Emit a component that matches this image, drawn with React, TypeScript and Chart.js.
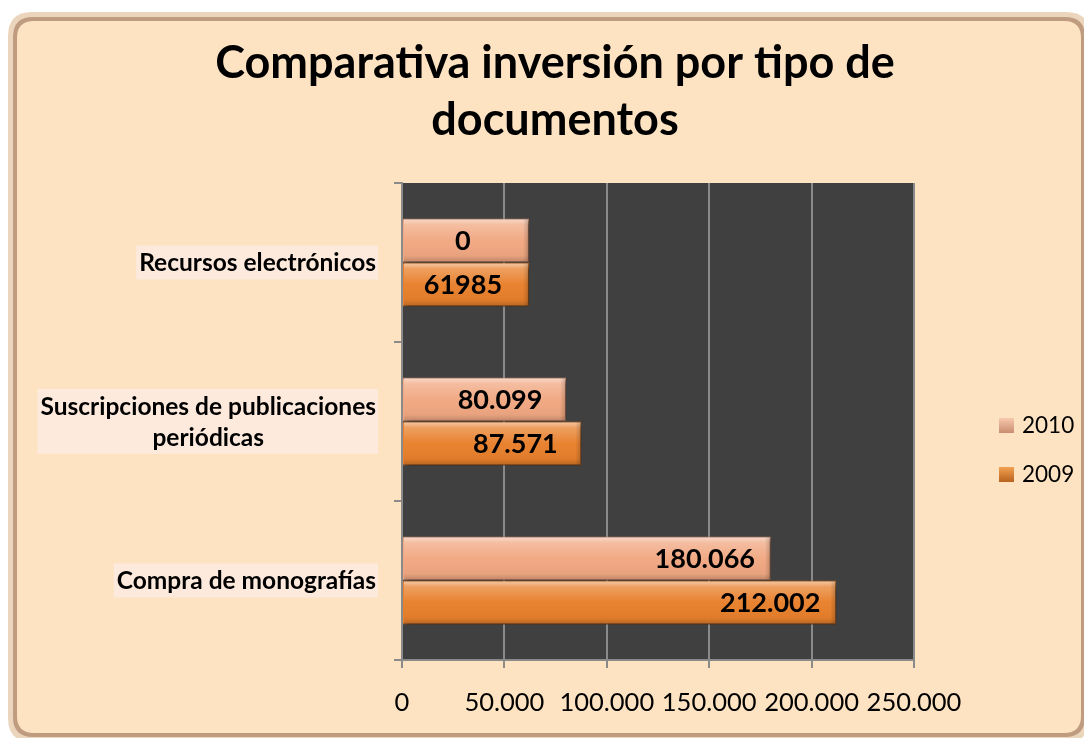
import React, { useEffect, useRef } from 'react';
import { Chart, registerables } from 'chart.js';

Chart.register(...registerables);

const TITLE_LINES = ['Comparativa inversión por tipo de', 'documentos'];
const CATEGORIES: string[][] = [
  ['Recursos electrónicos'],
  ['Suscripciones de publicaciones', 'periódicas'],
  ['Compra de monografías'],
];
const SERIES_NAMES = ['2010', '2009'];
const VALUES_2010 = [61985, 80099, 180066];
const VALUES_2009 = [61985, 87571, 212002];
const LABELS_2010 = ['0', '80.099', '180.066'];
const LABELS_2009 = ['61985', '87.571', '212.002'];
const X_MIN = 0;
const X_MAX = 250000;
const X_STEP = 50000;

const FONT = 'Lato, "Open Sans", sans-serif';
const BG = '#FDE3C2';
const PLOT_BG = '#404040';
const GRID = '#8a8a8a';
const COLORS = ['#F1A882', '#E8802C'];
const BORDERS = ['#C7876A', '#B5621F'];

const fmt = (v: number) => String(v).replace(/\B(?=(\d{3})+(?!\d))/g, '.');

function roundRectPath(ctx: CanvasRenderingContext2D, x: number, y: number, w: number, h: number, r: number) {
  ctx.beginPath();
  ctx.moveTo(x + r, y);
  ctx.lineTo(x + w - r, y);
  ctx.quadraticCurveTo(x + w, y, x + w, y + r);
  ctx.lineTo(x + w, y + h - r);
  ctx.quadraticCurveTo(x + w, y + h, x + w - r, y + h);
  ctx.lineTo(x + r, y + h);
  ctx.quadraticCurveTo(x, y + h, x, y + h - r);
  ctx.lineTo(x, y + r);
  ctx.quadraticCurveTo(x, y, x + r, y);
  ctx.closePath();
}

const decorPlugin = {
  id: 'decor',
  beforeDraw(chart: any) {
    const ctx: CanvasRenderingContext2D = chart.ctx;
    const { chartArea } = chart;
    ctx.save();
    ctx.clearRect(0, 0, chart.width, chart.height);
    // frame
    roundRectPath(ctx, 0, 4, 1082, 730, 24);
    ctx.fillStyle = '#EBD5BC';
    ctx.fill();
    roundRectPath(ctx, 5, 9, 1072, 720, 20);
    ctx.fillStyle = '#BF9C80';
    ctx.fill();
    roundRectPath(ctx, 9, 13, 1064, 712, 17);
    ctx.fillStyle = BG;
    ctx.fill();
    // plot area
    ctx.fillStyle = PLOT_BG;
    ctx.fillRect(chartArea.left, chartArea.top, chartArea.right - chartArea.left, chartArea.bottom - chartArea.top);
    // title
    ctx.fillStyle = '#000';
    ctx.font = `bold 45px ${FONT}`;
    ctx.textAlign = 'center';
    ctx.textBaseline = 'alphabetic';
    ctx.fillText(TITLE_LINES[0], 547, 70);
    ctx.fillText(TITLE_LINES[1], 547, 127);
    // category labels
    const yScale = chart.scales.y;
    ctx.font = `bold 24.5px ${FONT}`;
    const lh = 31;
    const right = 368;
    CATEGORIES.forEach((lines, i) => {
      const cy = yScale.getPixelForValue(i);
      const bw = Math.max(...lines.map((l) => ctx.measureText(l).width));
      const bh = lines.length * lh + 3;
      ctx.fillStyle = '#FDEADC';
      ctx.fillRect(right - bw - 3, cy - bh / 2, bw + 5, bh);
      ctx.fillStyle = '#000';
      ctx.textAlign = 'center';
      ctx.textBaseline = 'middle';
      lines.forEach((l, k) => {
        ctx.fillText(l, right - bw / 2, cy - ((lines.length - 1) * lh) / 2 + k * lh + 1);
      });
    });
    // legend
    const legendY = [417, 466];
    SERIES_NAMES.forEach((name, i) => {
      const y = legendY[i];
      const g = ctx.createLinearGradient(0, y - 7, 0, y + 8);
      g.addColorStop(0, i === 0 ? '#F7C9AE' : '#F2A050');
      g.addColorStop(1, i === 0 ? '#C98C70' : '#B8621F');
      ctx.fillStyle = g;
      ctx.fillRect(991, y - 7, 15, 15);
      ctx.fillStyle = '#000';
      ctx.font = `22.5px ${FONT}`;
      ctx.textAlign = 'left';
      ctx.textBaseline = 'middle';
      ctx.fillText(name, 1014, y + 1);
    });
    ctx.restore();
  },
  beforeDatasetsDraw(chart: any) {
    const ctx = chart.ctx;
    ctx.save();
    ctx.shadowColor = 'rgba(0,0,0,0.55)';
    ctx.shadowBlur = 5;
    ctx.shadowOffsetX = 3;
    ctx.shadowOffsetY = 3;
  },
  afterDatasetsDraw(chart: any) {
    const ctx: CanvasRenderingContext2D = chart.ctx;
    ctx.restore();
    const allLabels = [LABELS_2010, LABELS_2009];
    chart.data.datasets.forEach((_: any, di: number) => {
      const meta = chart.getDatasetMeta(di);
      meta.data.forEach((el: any, i: number) => {
        const top = el.y - el.height / 2;
        const left = Math.min(el.base, el.x);
        const w = Math.abs(el.x - el.base);
        const g = ctx.createLinearGradient(0, top, 0, top + el.height);
        g.addColorStop(0, 'rgba(255,255,255,0.6)');
        g.addColorStop(0.14, 'rgba(255,255,255,0.25)');
        g.addColorStop(0.5, 'rgba(255,255,255,0.02)');
        g.addColorStop(0.85, 'rgba(0,0,0,0.04)');
        g.addColorStop(1, 'rgba(0,0,0,0.22)');
        ctx.save();
        ctx.fillStyle = g;
        ctx.fillRect(left + 1, top + 1, w - 2, el.height - 2);
        const gr = ctx.createLinearGradient(left + w - 6, 0, left + w, 0);
        gr.addColorStop(0, 'rgba(0,0,0,0)');
        gr.addColorStop(1, 'rgba(0,0,0,0.2)');
        ctx.fillStyle = gr;
        ctx.fillRect(left + w - 6, top + 1, 5, el.height - 2);
        ctx.fillStyle = '#000';
        ctx.font = `bold 27px ${FONT}`;
        ctx.textAlign = 'center';
        ctx.textBaseline = 'middle';
        ctx.fillText(allLabels[di][i], el.x - 66, el.y + 1);
        ctx.restore();
      });
    });
  },
};

export default function App() {
  const ref = useRef<HTMLCanvasElement>(null);
  useEffect(() => {
    if (!ref.current) return;
    const chart = new Chart(ref.current, {
      type: 'bar',
      data: {
        labels: CATEGORIES.map((l) => l.join(' ')),
        datasets: [
          {
            label: SERIES_NAMES[0],
            data: VALUES_2010,
            backgroundColor: COLORS[0],
            borderColor: BORDERS[0],
            borderWidth: 1,
            categoryPercentage: 0.555,
            barPercentage: 1,
          },
          {
            label: SERIES_NAMES[1],
            data: VALUES_2009,
            backgroundColor: COLORS[1],
            borderColor: BORDERS[1],
            borderWidth: 1,
            categoryPercentage: 0.555,
            barPercentage: 1,
          },
        ],
      },
      options: {
        indexAxis: 'y',
        responsive: false,
        animation: false,
        devicePixelRatio: 1,
        layout: { padding: { top: 175, right: 178, left: 0, bottom: 0 } },
        plugins: { legend: { display: false }, title: { display: false }, tooltip: { enabled: false } },
        scales: {
          x: {
            min: X_MIN,
            max: X_MAX,
            ticks: {
              stepSize: X_STEP,
              color: '#000',
              font: { family: FONT, size: 25.5 },
              padding: 19,
              callback: (v: any) => fmt(Number(v)),
            },
            grid: { color: GRID, lineWidth: 2, tickLength: 8 },
            border: { color: GRID, width: 2 },
            afterFit: (s: any) => {
              s.height = 78;
            },
          },
          y: {
            ticks: { display: false },
            grid: { drawOnChartArea: false, color: GRID, lineWidth: 2, tickLength: 8, offset: true },
            border: { color: GRID, width: 2 },
            afterFit: (s: any) => {
              s.width = 394;
            },
          },
        },
      },
      plugins: [decorPlugin],
    } as any);
    return () => chart.destroy();
  }, []);
  return <canvas ref={ref} width={1084} height={730} style={{ display: 'block' }} />;
}
